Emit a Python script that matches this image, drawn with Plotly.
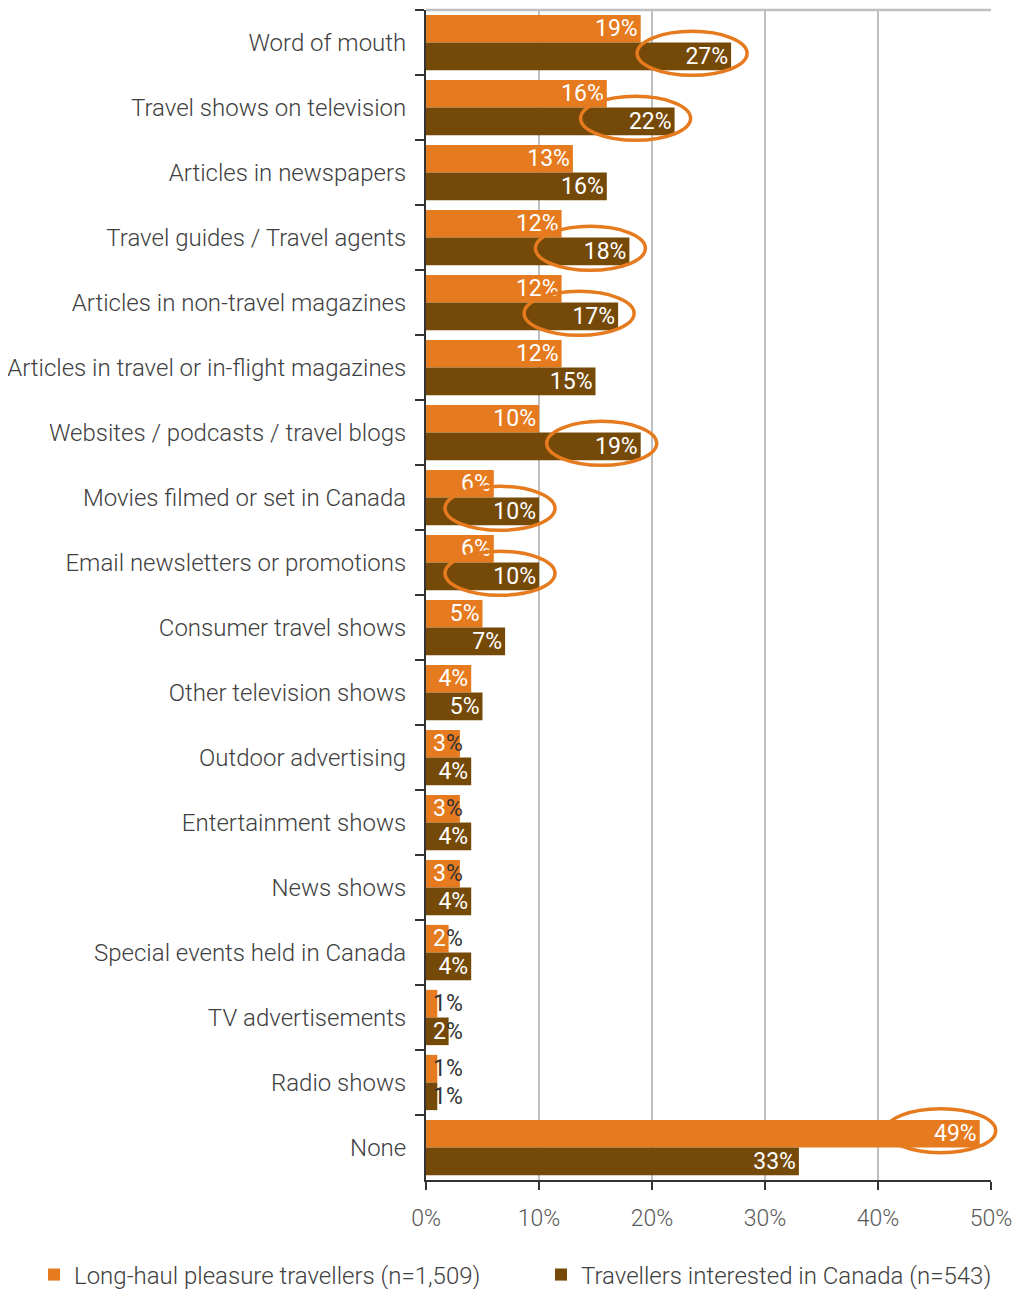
import plotly.graph_objects as go

categories = ["Word of mouth", "Travel shows on television", "Articles in newspapers",
              "Travel guides / Travel agents", "Articles in non-travel magazines",
              "Articles in travel or in-flight magazines", "Websites / podcasts / travel blogs",
              "Movies filmed or set in Canada", "Email newsletters or promotions",
              "Consumer travel shows", "Other television shows", "Outdoor advertising",
              "Entertainment shows", "News shows", "Special events held in Canada",
              "TV advertisements", "Radio shows", "None"]
long_haul = [19, 16, 13, 12, 12, 12, 10, 6, 6, 5, 4, 3, 3, 3, 2, 1, 1, 49]
canada = [27, 22, 16, 18, 17, 15, 19, 10, 10, 7, 5, 4, 4, 4, 4, 2, 1, 33]
series_names = ["Long-haul pleasure travellers (n=1,509)", "Travellers interested in Canada (n=543)"]
x_ticks = [0, 10, 20, 30, 40, 50]
# highlighted values: (category index, series index)
circled = [(0, 1), (1, 1), (3, 1), (4, 1), (6, 1), (7, 1), (8, 1), (17, 0)]

ORANGE = "#E67A1E"
BROWN = "#754A09"
FONT = "Roboto"
WEIGHT = 300
SMALL = 4  # labels of bars shorter than this are drawn next to the axis
X_MAX = x_ticks[-1]

# page body has an 8px default margin, so the figure is 8px smaller than the window
W, H = 1015, 1281
L, R, T, B = 418, 32, 2, 109
PW, PH = W - L - R, H - T - B

fig = go.Figure()
for k, (vals, name, col) in enumerate([(long_haul, series_names[0], ORANGE),
                                       (canada, series_names[1], BROWN)]):
    fig.add_trace(go.Bar(
        y=categories, x=vals, orientation="h", name=name, marker=dict(color=col, line=dict(width=0)),
        text=[f"{v}%" if v >= SMALL else "" for v in vals],
        textposition="inside", insidetextanchor="end", textangle=0, constraintext="none",
        textfont=dict(color="white", size=23, family=FONT, weight=400),
        hoverinfo="skip", legend="legend" if k == 0 else "legend2", showlegend=True,
    ))

BAR_OFF = 0.2125
DIGIT_W = 13
annotations = []
for si, vals in enumerate([long_haul, canada]):
    for i, v in enumerate(vals):
        if v < SMALL:
            y = i + (BAR_OFF if si == 1 else -BAR_OFF)
            common = dict(x=0, y=y, xref="x", yref="y", showarrow=False,
                          xanchor="left", yanchor="middle")
            if v * PW / X_MAX >= 20:
                # the digit sits on the bar (white), the % sign beside it (dark)
                annotations.append(dict(text=f"{v}", xshift=5,
                                        font=dict(color="white", size=23, family=FONT, weight=400), **common))
                annotations.append(dict(text="%", xshift=5 + DIGIT_W,
                                        font=dict(color="#333333", size=23, family=FONT, weight=400), **common))
            else:
                annotations.append(dict(text=f"{v}%", xshift=5,
                                        font=dict(color="#333333", size=23, family=FONT, weight=400), **common))

shapes = []
for ci, si in circled:
    v = (long_haul, canada)[si][ci]
    shapes.append(dict(
        type="circle", xref="paper", yref="y", xsizemode="pixel", ysizemode="pixel",
        xanchor=v / X_MAX, yanchor=ci + (BAR_OFF if si == 1 else -BAR_OFF),
        x0=-94, x1=16, y0=-19, y1=25,
        line=dict(color=ORANGE, width=3.5), fillcolor="rgba(0,0,0,0)", layer="above"))
shapes.append(dict(type="line", xref="paper", yref="paper", x0=0, x1=1, y0=1, y1=1,
                   line=dict(color="#BFBFBF", width=2.5)))

legend_common = dict(orientation="h", xref="paper", yref="paper", y=-(1267 - (T + PH)) / PH,
                     xanchor="left", yanchor="middle", bgcolor="rgba(0,0,0,0)",
                     font=dict(size=24, color="#404040", family=FONT, weight=WEIGHT))

fig.update_layout(
    width=W, height=H, showlegend=True,
    margin=dict(l=L, r=R, t=T, b=B, autoexpand=False),
    paper_bgcolor="white", plot_bgcolor="white",
    barmode="group", bargap=0.15, bargroupgap=0,
    font=dict(family=FONT, size=22, color="#404040", weight=WEIGHT),
    xaxis=dict(range=[0, X_MAX], tickvals=x_ticks, ticktext=[f"{t}%" for t in x_ticks],
               showgrid=True, gridcolor="#BFBFBF", gridwidth=2,
               showline=True, linecolor="#333333", linewidth=2,
               ticks="outside", ticklen=8, tickwidth=2, tickcolor="#333333",
               tickfont=dict(size=23, color="#595959", family=FONT, weight=WEIGHT),
               zeroline=False, fixedrange=True, ticklabelstandoff=8),
    yaxis=dict(type="category", autorange="reversed", showline=True, linecolor="#333333", linewidth=2,
               ticks="outside", ticklen=9, tickwidth=2, tickcolor="#333333", tickson="boundaries",
               tickfont=dict(size=24, color="#404040", family=FONT, weight=WEIGHT),
               showgrid=False, ticklabelstandoff=13),
    legend=dict(x=(26 - L) / PW, **legend_common),
    legend2=dict(x=(533 - L) / PW, **legend_common),
    annotations=annotations, shapes=shapes,
)

fig.write_html("out.html")
